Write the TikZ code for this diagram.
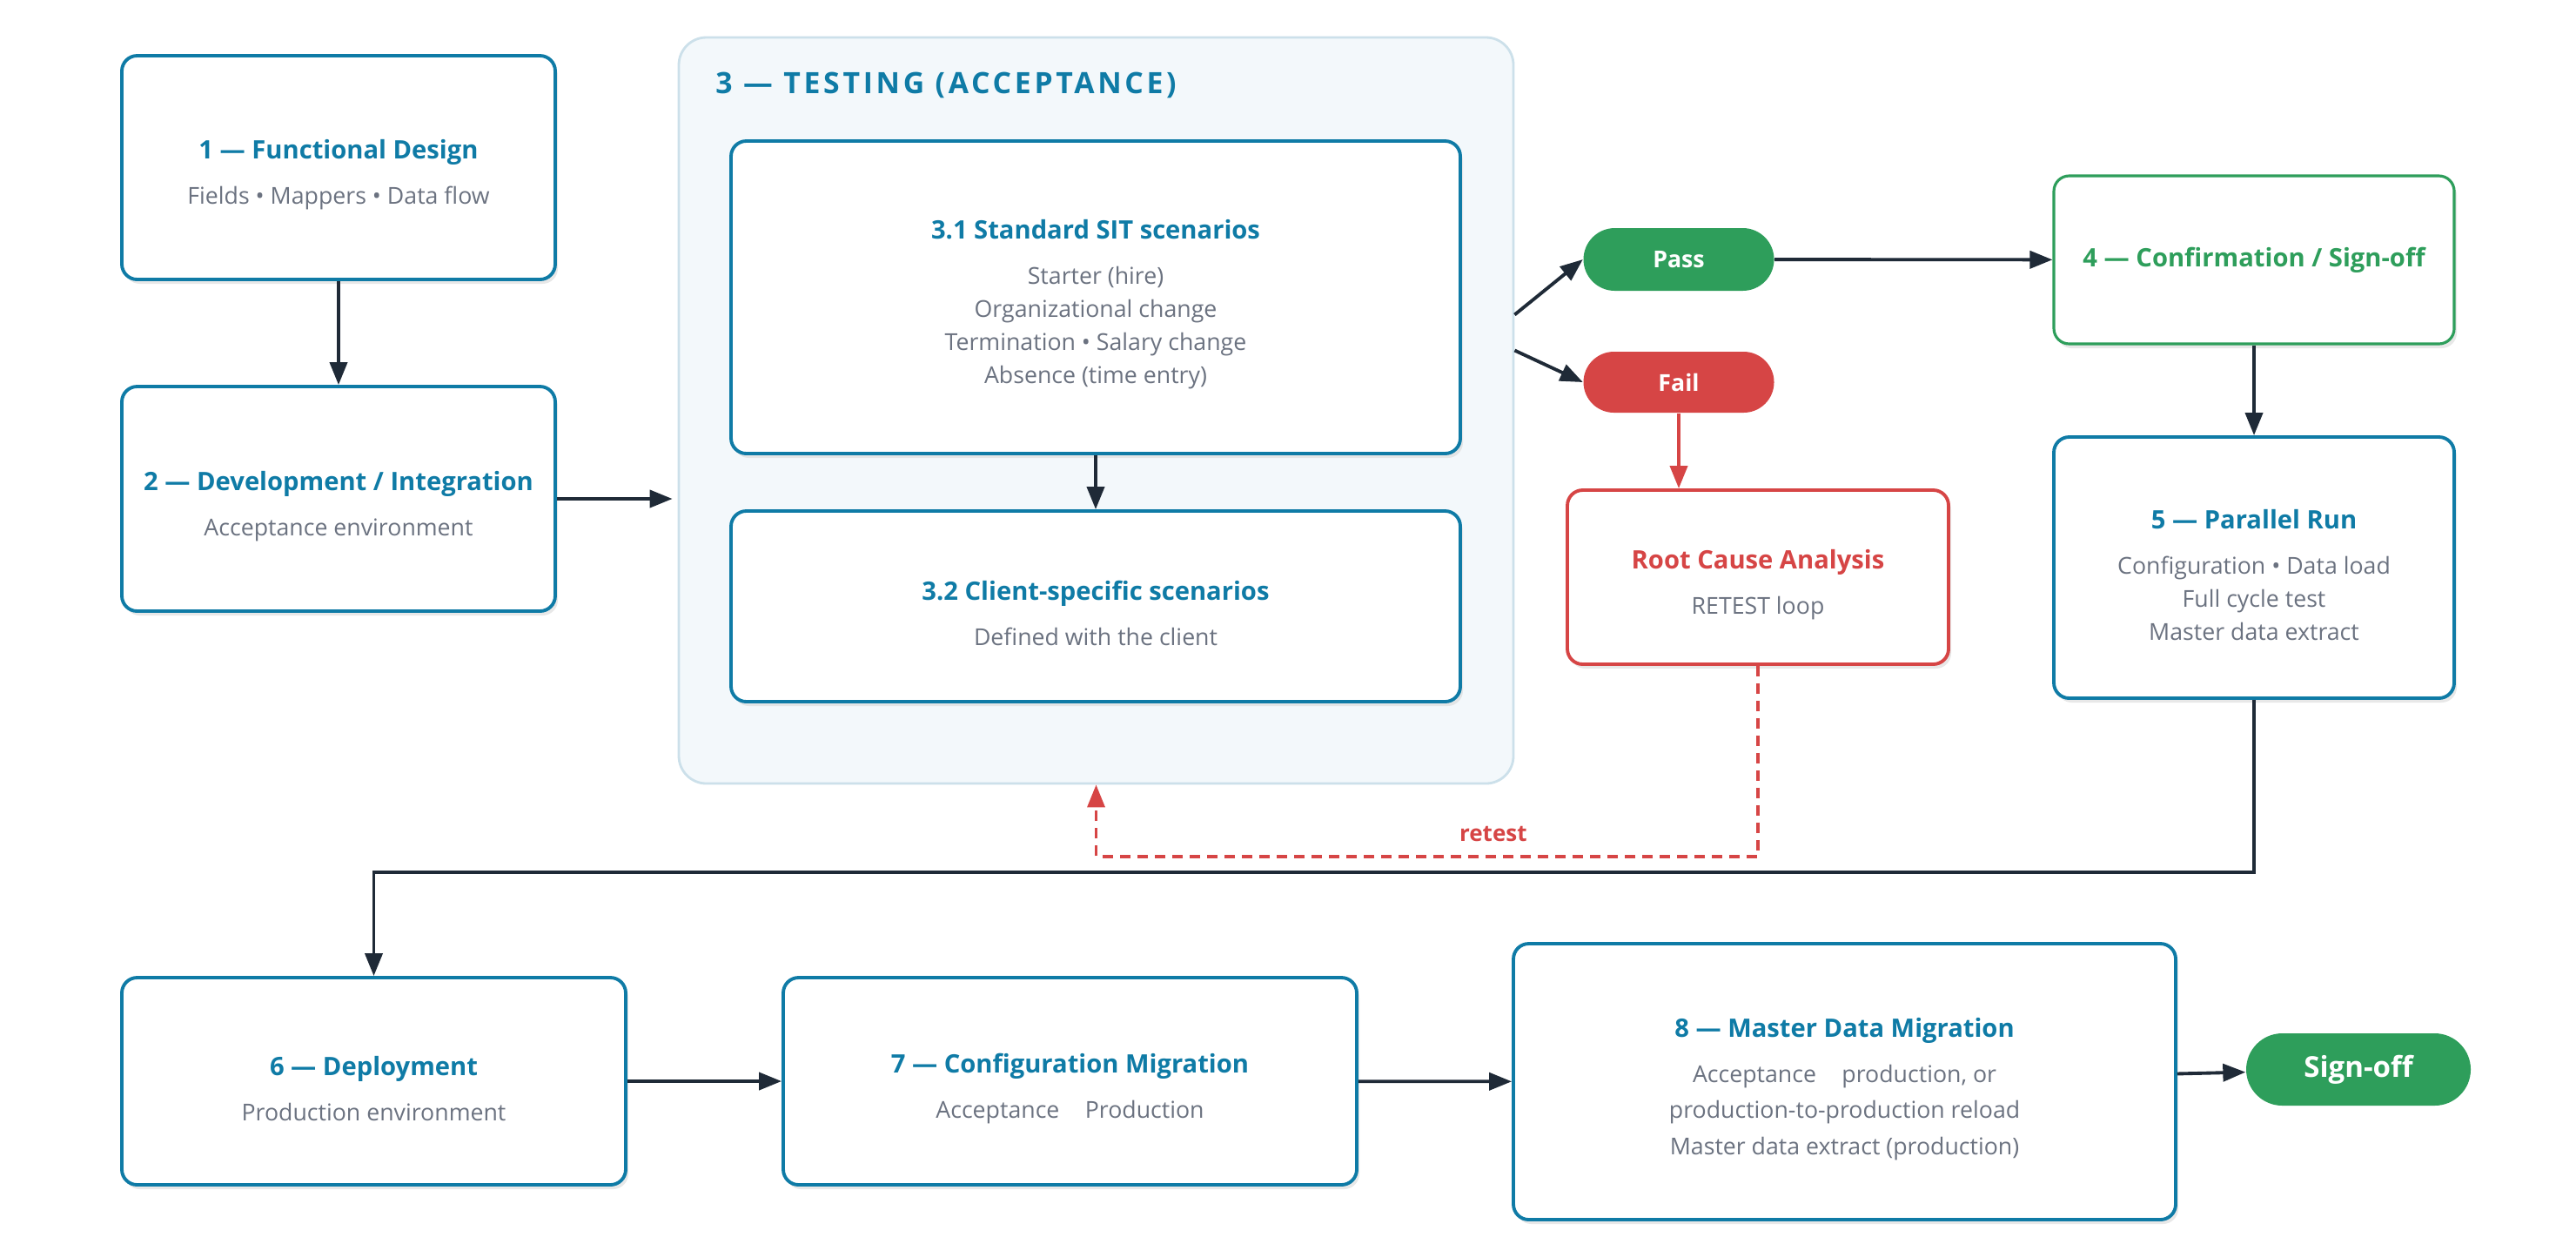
\documentclass[tikz,border=0pt]{standalone}
\usepackage{fontspec}
\setmainfont{Open Sans}
\newfontfamily\headfont[LetterSpace=11]{Open Sans}
\usetikzlibrary{arrows.meta, positioning, calc, shadows}
\definecolor{stepblue}{HTML}{0F7BA6}
\definecolor{textgray}{HTML}{6B7280}
\definecolor{arrowdark}{HTML}{1F2A37}
\definecolor{passgreen}{HTML}{2E9E5B}
\definecolor{failred}{HTML}{D64545}
\definecolor{panelfill}{HTML}{F3F8FB}
\definecolor{panelline}{HTML}{CCE0EA}
\newcommand{\steptitle}[2][stepblue]{{\fontsize{8.3}{10}\selectfont\bfseries\color{#1}\rule{0pt}{11pt}#2}}

\begin{document}
\begin{tikzpicture}[
    box/.style={draw=stepblue, line width=1.1pt, fill=white, rounded corners=5pt, align=center,
      text=textgray, font=\fontsize{7.6}{10.8}\selectfont,
      drop shadow={shadow xshift=0.03cm, shadow yshift=-0.05cm, fill=black!15, opacity=0.6}},
    pill/.style={fill=#1, text=white, align=center, font=\fontsize{7.6}{9}\selectfont\bfseries},
    arr/.style={-{Triangle[length=0.26cm, width=0.2cm]}, line width=1.1pt, draw=arrowdark},
  ]
  \useasboundingbox (0,0) rectangle (29.6,-14.28);

  % Top-left column
  \node[box, minimum width=4.98cm, minimum height=2.57cm] (design) at (3.89,-1.925)
    {\steptitle{1 — Functional Design}\\[4pt] Fields • Mappers • Data flow};
  \node[box, minimum width=4.98cm, minimum height=2.58cm] (devint) at (3.89,-5.73)
    {\steptitle{2 — Development / Integration}\\[4pt] Acceptance environment};

  % Testing panel
  \node[draw=panelline, fill=panelfill, line width=0.8pt, rounded corners=9pt,
    minimum width=9.59cm, minimum height=8.57cm] (testing) at (12.595,-4.715) {};
  \node[anchor=west, text=stepblue, font=\fontsize{9.6}{11}\headfont\bfseries] (testhead) at (8.1,-0.98)
    {3 — TESTING (ACCEPTANCE)};
  \node[box, minimum width=8.38cm, minimum height=3.59cm] (sit) at (12.59,-3.415)
    {\steptitle{3.1 Standard SIT scenarios}\\[4pt] Starter (hire)\\ Organizational change\\
     Termination • Salary change\\ Absence (time entry)};
  \node[box, minimum width=8.38cm, minimum height=2.19cm] (client) at (12.59,-6.965)
    {\steptitle{3.2 Client-specific scenarios}\\[4pt] Defined with the client};

  % Outcomes
  \node[pill=passgreen, minimum width=2.19cm, minimum height=0.72cm, rounded corners=0.36cm] (pass) at (19.29,-2.98) {Pass};
  \node[pill=failred, minimum width=2.19cm, minimum height=0.70cm, rounded corners=0.35cm] (fail) at (19.29,-4.39) {Fail};
  \node[box, draw=failred, minimum width=4.38cm, minimum height=2.0cm] (rca) at (20.2,-6.63)
    {\steptitle[failred]{Root Cause Analysis}\\[4pt] RETEST loop};

  % Right column
  \node[box, draw=passgreen, line width=0.9pt, minimum width=4.6cm, minimum height=1.93cm,
    font=\fontsize{8.3}{10}\selectfont\bfseries, text=passgreen] (confirm) at (25.9,-2.985)
    {4 — Confirmation / Sign-off};
  \node[box, minimum width=4.6cm, minimum height=3.0cm] (parallel) at (25.9,-6.52)
    {\steptitle{5 — Parallel Run}\\[4pt] Configuration • Data load\\ Full cycle test\\ Master data extract};

  % Bottom row
  \node[box, minimum width=5.79cm, minimum height=2.38cm] (deploy) at (4.295,-12.42)
    {\steptitle{6 — Deployment}\\[4pt] Production environment};
  \node[box, minimum width=6.59cm, minimum height=2.38cm] (config) at (12.295,-12.42)
    {\steptitle{7 — Configuration Migration}\\[4pt] Acceptance\hspace{1.1em}Production};
  \node[box, minimum width=7.61cm, minimum height=3.17cm] (master) at (21.195,-12.425)
    {\steptitle{8 — Master Data Migration}\\[4pt] Acceptance\hspace{1.1em}production, or\\[1pt]
     production-to-production reload\\[1pt] Master data extract (production)};
  \node[pill=passgreen, font=\fontsize{9.4}{11}\selectfont\bfseries, minimum width=2.58cm, minimum height=0.83cm,
    rounded corners=0.415cm] (signoff) at (27.1,-12.285) {Sign-off};

  % Arrows
  \draw[arr] (design) -- (devint);
  \draw[arr] (devint.east) -- ([xshift=-0.06cm]devint.east -| testing.west);
  \draw[arr] (sit) -- (client);
  \draw[arr] ([yshift=1.1cm]testing.east) -- (pass.west);
  \draw[arr] ([yshift=0.69cm]testing.east) -- (fail.west);
  \draw[arr] (pass) -- (confirm);
  \draw[arr, draw=failred] (fail.south) -- (fail.south |- rca.north);
  \draw[arr, draw=failred, line width=1pt, dash pattern=on 0.12cm off 0.08cm] (rca.south) -- ++(0,-2.19)
    -| (testing.south) node[pos=0.2, above=1pt, text=failred, font=\fontsize{7.4}{9}\selectfont\bfseries] {retest};
  \draw[arr] (confirm) -- (parallel);
  \draw[arr] (parallel.south) -- ++(0,-1.98) -| (deploy.north);
  \draw[arr] (deploy) -- (config);
  \draw[arr] (config) -- (master);
  \draw[arr] (master) -- (signoff);
\end{tikzpicture}
\end{document}
